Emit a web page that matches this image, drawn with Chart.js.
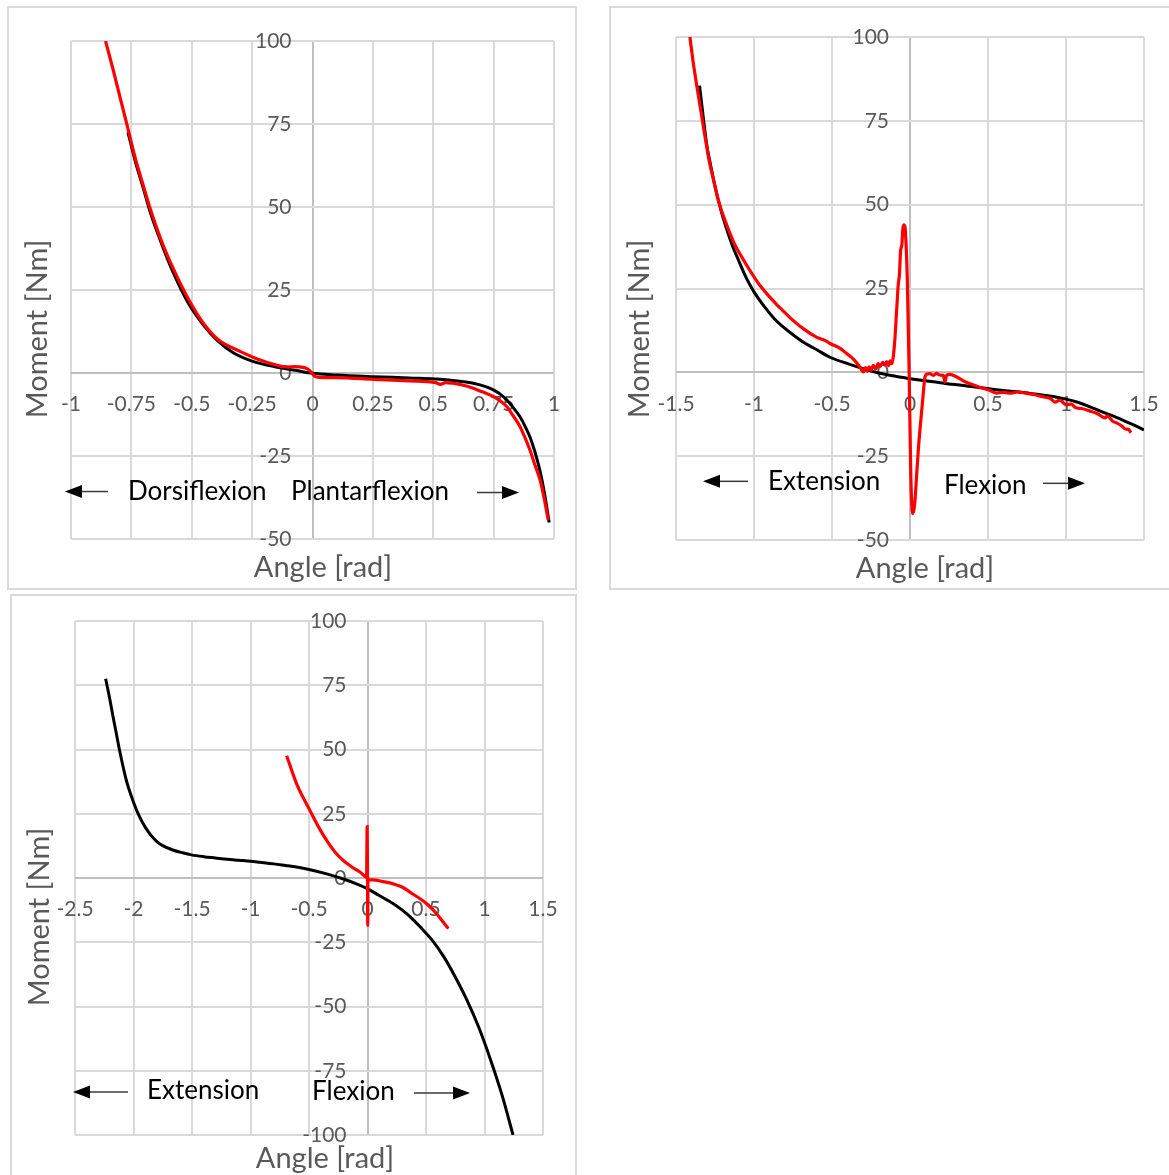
<!DOCTYPE html>
<html>
<head>
<meta charset="utf-8">
<title>Passive joint moment vs. angle</title>
<script src="https://cdn.jsdelivr.net/npm/chart.js@4.4.0/dist/chart.umd.min.js"></script>
<style>
  html, body { margin: 0; padding: 0; background: #fff; }
  body { position: relative; width: 1169px; height: 1175px; overflow: hidden; }
  .panel { position: absolute; box-sizing: border-box; border: 2px solid #d9d9d9; background: #fff; }
  .panel canvas { position: absolute; left: 0; top: 0; }
</style>
</head>
<body>
<div class="panel" style="left:7px; top:6px; width:570px; height:584px;"><canvas id="ankle" width="566" height="580"></canvas></div>
<div class="panel" style="left:609px; top:6px; width:565px; height:584px;"><canvas id="knee" width="561" height="580"></canvas></div>
<div class="panel" style="left:10px; top:594px; width:567px; height:592px;"><canvas id="hip" width="563" height="588"></canvas></div>
<script>
// ---------- Ankle ----------
const ankleAngleTicks = [-1, -0.75, -0.5, -0.25, 0, 0.25, 0.5, 0.75, 1];
const ankleMomentTicks = [-50, -25, 0, 25, 50, 75, 100];
const ankleModelAngle = [-0.764, -0.733, -0.70, -0.67, -0.62, -0.577, -0.514, -0.45, -0.39, -0.33, -0.25, -0.15, -0.07, 0, 0.1, 0.252, 0.4, 0.528, 0.6, 0.666, 0.72, 0.749, 0.78, 0.804, 0.83, 0.859, 0.88, 0.90, 0.92, 0.942, 0.96, 0.98];
const ankleModelMoment = [72.5, 63.5, 55.5, 48.0, 38.0, 30.3, 21.0, 14.3, 9.5, 6.2, 3.6, 1.8, 0.8, -0.1, -0.6, -1.1, -1.5, -1.9, -2.4, -3.1, -4.2, -5.1, -6.5, -8.1, -10.3, -13.2, -16.0, -19.2, -23.5, -29.5, -36.0, -45.0];
const ankleMeasAngle = [-0.857, -0.826, -0.795, -0.764, -0.733, -0.70, -0.67, -0.624, -0.577, -0.514, -0.452, -0.39, -0.30, -0.234, -0.15, -0.11, -0.07, -0.04, -0.02, -0.005, 0.01, 0.03, 0.1, 0.252, 0.4, 0.51, 0.53, 0.55, 0.62, 0.666, 0.70, 0.749, 0.804, 0.83, 0.859, 0.88, 0.90, 0.92, 0.942, 0.96, 0.976];
const ankleMeasMoment = [100, 91.5, 82.5, 73.5, 64.5, 56.3, 49.0, 39.5, 31.5, 22.3, 15.0, 10.0, 6.5, 4.4, 2.4, 1.8, 1.9, 1.7, 1.2, 0.2, -1.0, -1.3, -1.4, -1.9, -2.4, -2.9, -3.4, -2.9, -3.6, -4.6, -5.6, -7.1, -10.1, -12.8, -16.1, -19.5, -23.1, -27.5, -32.2, -38.0, -44.3];

// ---------- Knee ----------
const kneeAngleTicks = [-1.5, -1, -0.5, 0, 0.5, 1, 1.5];
const kneeMomentTicks = [-50, -25, 0, 25, 50, 75, 100];
const kneeModelAngle = [-1.349, -1.32, -1.30, -1.279, -1.25, -1.21, -1.17, -1.14, -1.10, -1.048, -1.0, -0.932, -0.87, -0.817, -0.75, -0.678, -0.6, -0.513, -0.4, -0.3, -0.2, -0.1, 0, 0.1, 0.224, 0.342, 0.456, 0.57, 0.687, 0.769, 0.87, 0.918, 1.0, 1.08, 1.15, 1.22, 1.3, 1.381, 1.44, 1.5];
const kneeModelMoment = [85.5, 74.0, 67.0, 62.0, 55.5, 48.0, 42.0, 38.0, 33.5, 28.0, 24.0, 19.5, 16.0, 13.7, 11.2, 8.8, 6.8, 4.5, 2.6, 1.1, -0.2, -1.1, -1.9, -2.5, -3.3, -3.9, -4.6, -5.3, -5.8, -6.3, -6.9, -7.2, -8.0, -9.0, -10.2, -11.6, -13.0, -14.6, -15.8, -17.2];
const kneeMeasAngle = [-1.411, -1.39, -1.372, -1.355, -1.337, -1.32, -1.302, -1.285, -1.268, -1.25, -1.233, -1.21, -1.187, -1.15, -1.117, -1.08, -1.048, -1.0, -0.955, -0.9, -0.85, -0.817, -0.75, -0.678, -0.6, -0.539, -0.513, -0.45, -0.406, -0.36, -0.321, -0.299, -0.285, -0.275, -0.262, -0.25, -0.235, -0.22, -0.205, -0.19, -0.175, -0.16, -0.15, -0.138, -0.128, -0.117, -0.1, -0.085, -0.075, -0.068, -0.06, -0.052, -0.047, -0.04, -0.032, -0.025, -0.017, -0.006, 0.004, 0.01, 0.017, 0.025, 0.032, 0.042, 0.053, 0.068, 0.081, 0.096, 0.11, 0.128, 0.15, 0.17, 0.19, 0.214, 0.224, 0.235, 0.256, 0.3, 0.34, 0.385, 0.45, 0.513, 0.556, 0.6, 0.65, 0.687, 0.75, 0.803, 0.85, 0.9, 0.93, 0.96, 1.0, 1.034, 1.06, 1.1, 1.15, 1.2, 1.25, 1.265, 1.3, 1.33, 1.358, 1.38, 1.4, 1.416];
const kneeMeasMoment = [100, 92.5, 87.0, 82.0, 77.0, 72.0, 67.0, 62.5, 59.0, 55.5, 52.0, 48.5, 45.5, 41.0, 37.5, 34.5, 32.0, 28.5, 25.5, 22.5, 20.0, 18.5, 15.5, 12.8, 10.5, 9.4, 8.6, 7.2, 5.6, 3.8, 1.6, 0.1, 1.4, 0.3, 1.6, 0.6, 2.1, 1.0, 2.6, 1.8, 3.0, 2.2, 3.2, 2.0, 3.4, 2.6, 8.0, 19.0, 26.4, 29.0, 36.4, 38.0, 42.3, 44.0, 43.3, 38.0, 27.4, 1.6, -28.2, -38.0, -42.1, -41.0, -38.2, -31.0, -23.3, -15.0, -8.4, -1.4, -0.5, -0.4, -0.9, -0.3, -0.8, -0.9, -2.9, -0.8, -0.6, -1.4, -2.5, -3.4, -4.5, -5.4, -6.2, -6.0, -6.2, -5.8, -6.3, -6.7, -7.3, -7.8, -8.9, -8.3, -9.6, -9.5, -10.5, -10.8, -11.5, -12.3, -13.6, -13.0, -14.6, -15.2, -16.0, -16.9, -17.0, -18.0];

// ---------- Hip ----------
const hipAngleTicks = [-2.5, -2, -1.5, -1, -0.5, 0, 0.5, 1, 1.5];
const hipMomentTicks = [-100, -75, -50, -25, 0, 25, 50, 75, 100];
const hipModelAngle = [-2.238, -2.2, -2.18, -2.15, -2.116, -2.08, -2.052, -2.0, -1.955, -1.9, -1.85, -1.8, -1.75, -1.665, -1.58, -1.504, -1.4, -1.3, -1.2, -1.1, -1.0, -0.919, -0.8, -0.7, -0.634, -0.5, -0.349, -0.2, -0.1, 0, 0.1, 0.221, 0.3, 0.363, 0.45, 0.549, 0.65, 0.75, 0.85, 0.95, 1.05, 1.15, 1.244];
const hipModelMoment = [77.5, 69.0, 64.0, 57.0, 49.0, 41.5, 36.5, 29.5, 24.5, 19.8, 16.6, 14.2, 12.6, 10.9, 9.8, 9.0, 8.3, 7.8, 7.3, 6.9, 6.5, 6.1, 5.5, 4.9, 4.5, 3.3, 1.6, -0.5, -2.2, -4.2, -6.8, -10.0, -12.6, -15.0, -19.0, -24.0, -30.5, -38.5, -47.5, -58.0, -70.5, -84.5, -100];
const hipMeasAngle = [-0.691, -0.6, -0.491, -0.42, -0.349, -0.28, -0.207, -0.13, -0.064, -0.021, -0.008, -0.003, 0.0, 0.002, 0.004, 0.008, 0.05, 0.12, 0.221, 0.3, 0.363, 0.44, 0.506, 0.56, 0.591, 0.62, 0.648, 0.691];
const hipMeasMoment = [47.6, 36.0, 26.2, 20.0, 14.6, 10.2, 6.8, 4.2, 2.3, 0.6, 0.2, 20.0, 5.0, -18.4, 0.0, -0.8, -0.7, -1.3, -2.3, -3.6, -5.5, -7.8, -10.0, -12.4, -13.9, -15.6, -17.2, -19.7];

const FONT = 'Lato, "Open Sans", sans-serif';
const GRID = '#d9d9d9';
const AXIS_LINE = '#bfbfbf';
const TICK_TEXT = '#595959';

const zip = (xs, ys) => xs.map((x, i) => ({ x, y: ys[i] }));

// Axis titles, direction captions and arrows drawn on top of each panel
const panelText = {
  id: 'panelText',
  afterDraw(chart, args, opts) {
    const { ctx, scales: { x, y } } = chart;
    ctx.save();
    ctx.fillStyle = TICK_TEXT;
    ctx.font = '29px ' + FONT;
    ctx.textAlign = 'center';
    ctx.textBaseline = 'middle';
    ctx.fillText('Angle [rad]', opts.xTitle[0], opts.xTitle[1]);
    ctx.save();
    ctx.translate(opts.yTitle[0], opts.yTitle[1]);
    ctx.rotate(-Math.PI / 2);
    ctx.fillText('Moment [Nm]', 0, 0);
    ctx.restore();

    ctx.fillStyle = '#000';
    ctx.font = '26px ' + FONT;
    ctx.textAlign = 'left';
    opts.notes.forEach(n => ctx.fillText(n.text, x.getPixelForValue(n.x), y.getPixelForValue(n.y)));

    opts.arrows.forEach(a => {
      const x0 = x.getPixelForValue(a.from), x1 = x.getPixelForValue(a.to), py = y.getPixelForValue(a.y);
      const dir = Math.sign(x1 - x0);
      const head = 17, half = 6.5;
      ctx.strokeStyle = '#3a3a3a';
      ctx.lineWidth = 1.5;
      ctx.beginPath();
      ctx.moveTo(x0, py);
      ctx.lineTo(x1 - dir * head, py);
      ctx.stroke();
      ctx.fillStyle = '#000';
      ctx.beginPath();
      ctx.moveTo(x1, py);
      ctx.lineTo(x1 - dir * head, py - half);
      ctx.lineTo(x1 - dir * head, py + half);
      ctx.closePath();
      ctx.fill();
    });
    ctx.restore();
  }
};

// Axes crossing inside the plot should not push the plot area inwards
const noAxisPadding = s => { s.paddingLeft = 0; s.paddingRight = 0; s.paddingTop = 0; s.paddingBottom = 0; };

function buildPanel(id, p) {
  const canvas = document.getElementById(id);
  const plotW = canvas.width - p.padding.left - p.padding.right;
  const xMin = p.xTicks[0], xMax = p.xTicks[p.xTicks.length - 1];
  const yMin = p.yTicks[0], yMax = p.yTicks[p.yTicks.length - 1];
  // y labels sit a fixed gap to the left of the x = 0 line
  const yLabelAt = -p.yLabelGap * (xMax - xMin) / plotW;
  const gridColor = c => (c.tick && c.tick.value === 0 ? AXIS_LINE : GRID);
  const tickFont = { family: FONT, size: 21 };

  return new Chart(canvas, {
    type: 'line',
    data: {
      datasets: [
        { label: 'model', data: zip(p.modelX, p.modelY), borderColor: '#000000', borderWidth: 3,
          pointRadius: 0, cubicInterpolationMode: 'monotone', fill: false, order: 1 },
        { label: 'measured', data: zip(p.measX, p.measY), borderColor: '#ff0000', borderWidth: 3.2,
          pointRadius: 0, cubicInterpolationMode: 'monotone', fill: false, order: 0 }
      ]
    },
    options: {
      responsive: false,
      animation: false,
      devicePixelRatio: 1,
      layout: { padding: p.padding },
      plugins: {
        legend: { display: false },
        tooltip: { enabled: false },
        panelText: p.text
      },
      scales: {
        x: {
          type: 'linear', min: xMin, max: xMax,
          position: { y: 0 },
          afterBuildTicks: s => { s.ticks = p.xTicks.map(v => ({ value: v })); },
          afterFit: noAxisPadding,
          ticks: { autoSkip: false, maxRotation: 0, minRotation: 0, padding: 19, color: TICK_TEXT,
                   font: tickFont, callback: v => String(v) },
          grid: { color: gridColor, lineWidth: 2, drawTicks: false },
          border: { display: false }
        },
        y: {
          type: 'linear', min: yMin, max: yMax,
          position: { x: yLabelAt },
          afterBuildTicks: s => { s.ticks = p.yTicks.map(v => ({ value: v })); },
          afterFit: noAxisPadding,
          ticks: { autoSkip: false, color: TICK_TEXT, font: tickFont, padding: 0, callback: v => String(v) },
          grid: { color: gridColor, lineWidth: 2, drawTicks: false },
          border: { display: false }
        }
      }
    },
    plugins: [panelText]
  });
}

buildPanel('ankle', {
  xTicks: ankleAngleTicks, yTicks: ankleMomentTicks,
  modelX: ankleModelAngle, modelY: ankleModelMoment,
  measX: ankleMeasAngle, measY: ankleMeasMoment,
  padding: { left: 62, top: 33, right: 21, bottom: 49 },
  yLabelGap: 21,
  text: {
    xTitle: [314, 560], yTitle: [29, 321],
    notes: [{ text: 'Dorsiflexion', x: -0.764, y: -35.7 }, { text: 'Plantarflexion', x: -0.089, y: -35.7 }],
    arrows: [{ from: -0.847, to: -1.025, y: -35.7 }, { from: 0.681, to: 0.855, y: -36.0 }]
  }
});

buildPanel('knee', {
  xTicks: kneeAngleTicks, yTicks: kneeMomentTicks,
  modelX: kneeModelAngle, modelY: kneeModelMoment,
  measX: kneeMeasAngle, measY: kneeMeasMoment,
  padding: { left: 65, top: 29, right: 28, bottom: 48 },
  yLabelGap: 21,
  text: {
    xTitle: [314, 561], yTitle: [29, 321],
    notes: [{ text: 'Extension', x: -0.91, y: -32.5 }, { text: 'Flexion', x: 0.218, y: -33.7 }],
    arrows: [{ from: -1.038, to: -1.327, y: -32.5 }, { from: 0.853, to: 1.122, y: -33.1 }]
  }
});

buildPanel('hip', {
  xTicks: hipAngleTicks, yTicks: hipMomentTicks,
  modelX: hipModelAngle, modelY: hipModelMoment,
  measX: hipMeasAngle, measY: hipMeasMoment,
  padding: { left: 63, top: 25, right: 32, bottom: 49 },
  yLabelGap: 21,
  text: {
    xTitle: [313, 563], yTitle: [28, 321],
    notes: [{ text: 'Extension', x: -1.885, y: -82.9 }, { text: 'Flexion', x: -0.474, y: -83.3 }],
    arrows: [{ from: -2.047, to: -2.517, y: -83.3 }, { from: 0.397, to: 0.876, y: -83.7 }]
  }
});
</script>
</body>
</html>
